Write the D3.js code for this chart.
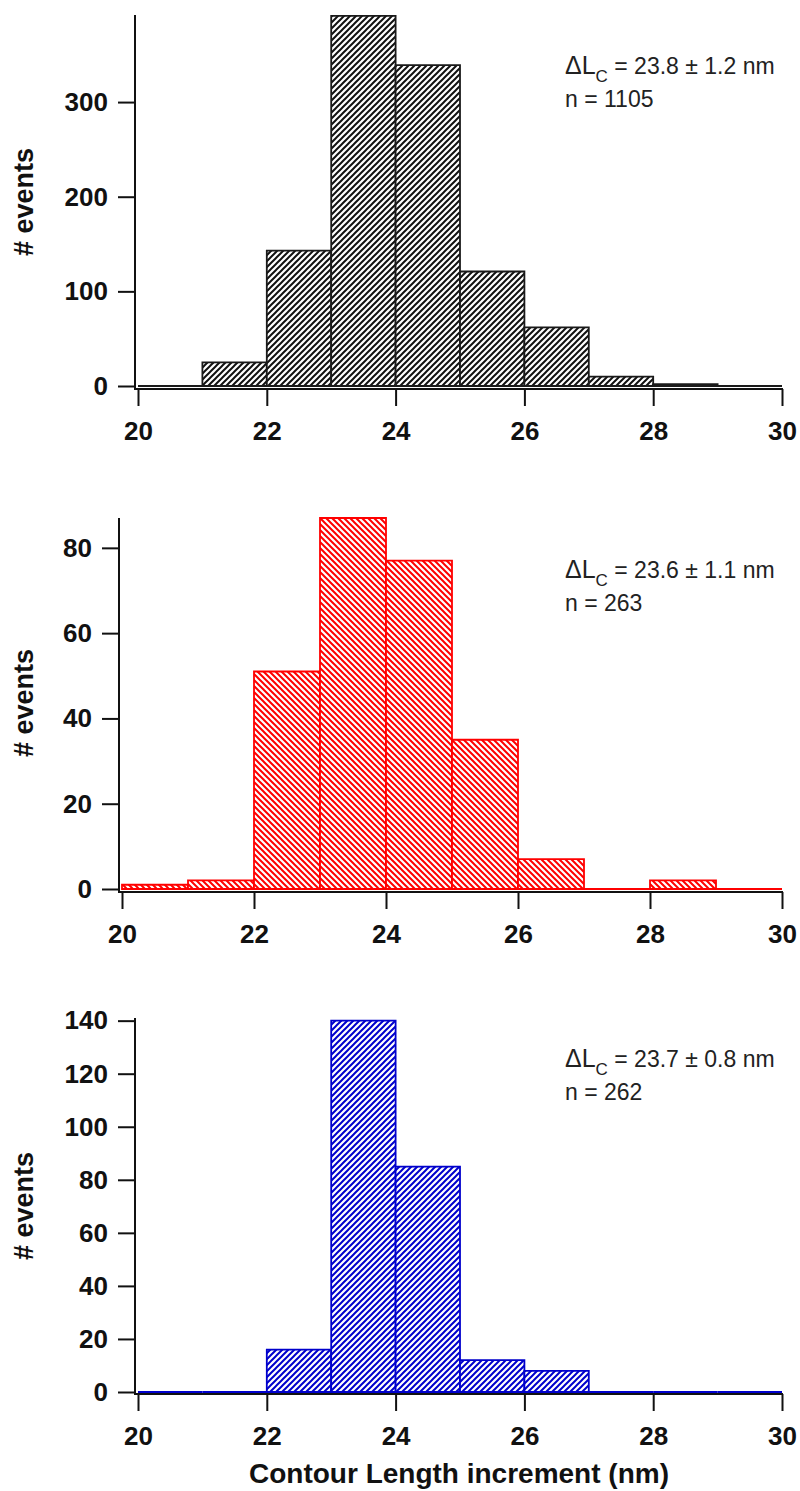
<!DOCTYPE html>
<html>
<head>
<meta charset="utf-8">
<script src="https://d3js.org/d3.v7.min.js"></script>
<style>
  body { margin: 0; background: white; }
  text { font-family: Arial, "Liberation Sans", sans-serif; }
  .axis text { font-size: 26px; font-weight: bold; fill: #111; }
  .axis line { stroke: #111; stroke-width: 2; }
  .frame { stroke: #111; stroke-width: 2; }
</style>
</head>
<body>
<svg width="800" height="1491"></svg>
<script>
// histogram bins (nm) and counts per panel
var binEdges = [20, 21, 22, 23, 24, 25, 26, 27, 28, 29, 30];
var countsBlack = [0, 25, 143, 391, 339, 121, 62, 10, 2, 0];
var countsRed = [1, 2, 51, 87, 77, 35, 7, 0, 2, 0];
var countsBlue = [0, 0, 16, 140, 85, 12, 8, 0, 0, 0];
var xTicks = [20, 22, 24, 26, 28, 30];
var yTicksBlack = [0, 100, 200, 300];
var yTicksRed = [0, 20, 40, 60, 80];
var yTicksBlue = [0, 20, 40, 60, 80, 100, 120, 140];
var fitLabels = ["23.8 ± 1.2 nm", "23.6 ± 1.1 nm", "23.7 ± 0.8 nm"];
var nLabels = ["n = 1105", "n = 263", "n = 262"];
var yLabel = "# events";
var xLabel = "Contour Length increment (nm)";

var svg = d3.select("svg");

// hatch fills
var defs = svg.append("defs");
function hatch(id, color, size, back) {
  var p = defs.append("pattern")
    .attr("id", id)
    .attr("patternUnits", "userSpaceOnUse")
    .attr("width", size).attr("height", size);
  p.append("rect").attr("width", size).attr("height", size).attr("fill", "white");
  var d = back
    ? "M-1," + (size - 1) + " l2,2 M0,0 l" + size + "," + size + " M" + (size - 1) + ",-1 l2,2"
    : "M-1,1 l2,-2 M0," + size + " l" + size + ",-" + size + " M" + (size - 1) + "," + (size + 1) + " l2,-2";
  p.append("path").attr("d", d).attr("stroke", color).attr("stroke-width", 2);
}
hatch("hatchBlack", "#111", 6, false);
hatch("hatchRed", "#ff0000", 6, true);
hatch("hatchBlue", "#0000cc", 6, false);

var panels = [
  {counts: countsBlack, ticks: yTicksBlack, yMax: 392, color: "#1a1a1a", fill: "hatchBlack",
   left: 135, x0: 138, x1: 782, top: 15, zero: 386, axisY: 389, statY: 74, nY: 107, labelY: 202},
  {counts: countsRed, ticks: yTicksRed, yMax: 87, color: "#ff0000", fill: "hatchRed",
   left: 119, x0: 122, x1: 782, top: 518, zero: 889, axisY: 892, statY: 578, nY: 611, labelY: 703},
  {counts: countsBlue, ticks: yTicksBlue, yMax: 141, color: "#0000cc", fill: "hatchBlue",
   left: 135, x0: 138, x1: 782, top: 1018, zero: 1392, axisY: 1394, statY: 1067, nY: 1100, labelY: 1206}
];

panels.forEach(function(p, k) {
  var x = d3.scaleLinear().domain([20, 30]).range([p.x0, p.x1]);
  var y = d3.scaleLinear().domain([0, p.yMax]).range([p.zero, p.top]);

  // bars as paths so empty bins still show as a line
  svg.append("g").selectAll("path")
    .data(p.counts)
    .enter()
    .append("path")
    .attr("d", function(d, i) {
      var a = x(binEdges[i]), b = x(binEdges[i + 1]);
      return "M" + a + "," + y(0) + "V" + y(d) + "H" + b + "V" + y(0) + "Z";
    })
    .attr("fill", "url(#" + p.fill + ")")
    .attr("stroke", p.color)
    .attr("stroke-width", 1.8);

  var ya = svg.append("g").attr("class", "axis")
    .attr("transform", "translate(" + p.left + ",0)")
    .call(d3.axisLeft(y).tickValues(p.ticks).tickSize(17).tickPadding(10).tickFormat(d3.format("d")));
  ya.select(".domain").remove();

  var xa = svg.append("g").attr("class", "axis")
    .attr("transform", "translate(0," + p.axisY + ")")
    .call(d3.axisBottom(x).tickValues(xTicks).tickSize(17).tickPadding(16).tickFormat(d3.format("d")));
  xa.select(".domain").remove();

  svg.append("line").attr("class", "frame")
    .attr("x1", p.left).attr("x2", p.left)
    .attr("y1", p.top).attr("y2", p.axisY + 1);
  svg.append("line").attr("class", "frame")
    .attr("x1", p.left - 1).attr("x2", p.x1 + 1)
    .attr("y1", p.axisY).attr("y2", p.axisY);

  // fit annotation
  var t = svg.append("text").attr("x", 565).attr("y", p.statY).attr("fill", "#222");
  t.append("tspan").attr("font-size", 25).text("ΔL");
  t.append("tspan").attr("font-size", 17).attr("dy", 8).text("C");
  t.append("tspan").attr("font-size", 23).attr("dy", -8).text(" = " + fitLabels[k]);
  svg.append("text").attr("x", 565).attr("y", p.nY)
    .attr("font-size", 23).attr("fill", "#222").text(nLabels[k]);

  svg.append("text")
    .attr("transform", "translate(33," + p.labelY + ") rotate(-90)")
    .attr("text-anchor", "middle")
    .attr("font-size", 27).attr("font-weight", "bold").attr("fill", "#111")
    .text(yLabel);
});

svg.append("text")
  .attr("x", 459).attr("y", 1483)
  .attr("text-anchor", "middle")
  .attr("font-size", 28).attr("font-weight", "bold").attr("fill", "#111")
  .text(xLabel);
</script>
</body>
</html>
